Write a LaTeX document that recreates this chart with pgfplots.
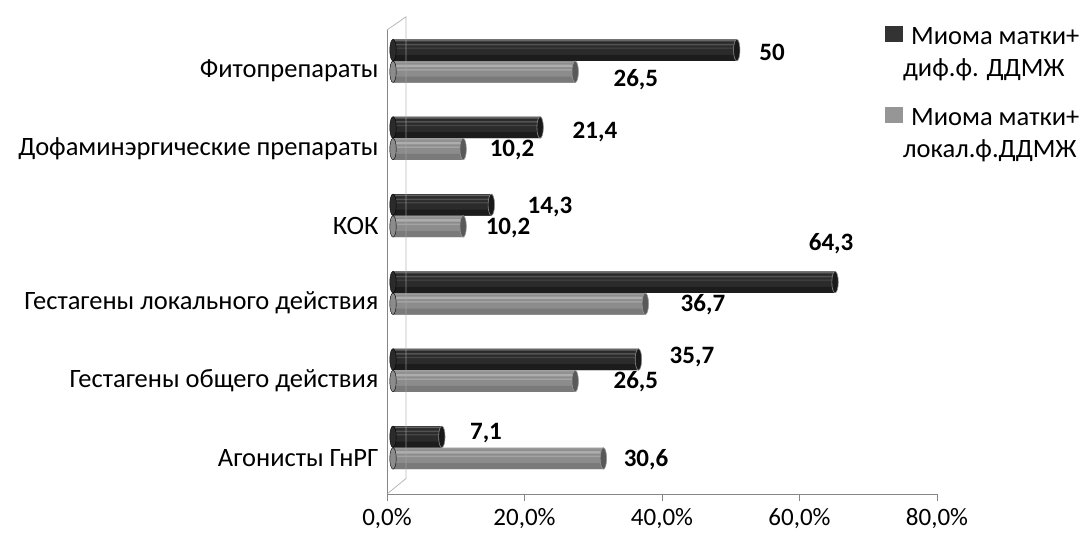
\documentclass[border=0pt]{standalone}
\usepackage{pgfplots}
\usepackage{pgfplotstable}
\pgfplotsset{compat=1.18}
\usepackage{fontspec}
\setmainfont{Carlito}

\definecolor{axisgray}{HTML}{868686}
\definecolor{framegray}{HTML}{A6A6A6}
\definecolor{legdark}{HTML}{333333}
\definecolor{leggray}{HTML}{969696}

% x = value, y = position of the bar (category k at k+0.74 / k+0.46)
% Миома матки + диф.ф. ДДМЖ
\pgfplotstableread{
x    y
7.1  0.74
35.7 1.74
64.3 2.74
14.3 3.74
21.4 4.74
50   5.74
}\diffdata
% Миома матки + локал.ф. ДДМЖ
\pgfplotstableread{
x    y
30.6 0.46
26.5 1.46
36.7 2.46
10.2 3.46
10.2 4.46
26.5 5.46
}\locdata

\pgfplotsset{
  layer/.style n args={3}{xbar, bar shift=#2, bar width=#3, draw=none, fill=#1, forget plot},
  cap/.style={only marks, mark=*, mark size=10.75pt, forget plot},
}

\begin{document}
\begin{tikzpicture}[font=\fontsize{26.5}{32}\selectfont]
% bars, drawn in a hidden axis set 6pt to the right (3-D depth of the cylinders)
\begin{axis}[
  at={(6pt,0)}, anchor=south west,
  scale only axis, width=550pt, height=464pt,
  xmin=0, xmax=80, ymin=0, ymax=6,
  axis lines=none, clip=false,
  legend style={draw=none, fill=none, inner sep=0pt,
    at={(axis description cs:0.8945,1.0086)}, anchor=north west,
    font=\fontsize{26.5}{32}\selectfont, row sep=27pt,
    nodes={inner sep=0pt},
    cells={align=left, anchor=west},
    /tikz/every even column/.style={column sep=4pt}},
]
% left ends
\addplot[cap, mark options={xscale=0.3, fill=black!83, draw=none}]
  table[x expr=0, y=y] {\diffdata};
\addplot[cap, mark options={xscale=0.3, fill=black!45, draw=none}]
  table[x expr=0, y=y] {\locdata};
% dark cylinders
\addplot[layer={black!83}{0pt}{21.5pt}] table[x=x, y=y] {\diffdata};
\addplot[layer={black!89}{-7.75pt}{6pt}] table[x=x, y=y] {\diffdata};
\addplot[layer={black!60}{9.5pt}{1.5pt}] table[x=x, y=y] {\diffdata};
\addplot[layer={black!68}{5.5pt}{1.5pt}] table[x=x, y=y] {\diffdata};
\addplot[layer={black!72}{2pt}{1.2pt}] table[x=x, y=y] {\diffdata};
% gray cylinders
\addplot[layer={black!45}{0pt}{21.5pt}] table[x=x, y=y] {\locdata};
\addplot[layer={black!52}{-7.75pt}{6pt}] table[x=x, y=y] {\locdata};
\addplot[layer={black!32}{6pt}{2.5pt}] table[x=x, y=y] {\locdata};
\addplot[layer={black!36}{2pt}{1.5pt}] table[x=x, y=y] {\locdata};
\addplot[layer={black!40}{9.5pt}{1.5pt}] table[x=x, y=y] {\locdata};
% right end caps
\addplot[cap, mark options={xscale=0.3, fill=black!90, draw=black!45, line width=0.6pt}]
  table[x=x, y=y] {\diffdata};
\addplot[cap, mark options={xscale=0.3, fill=black!65, draw=black!40, line width=0.6pt}]
  table[x=x, y=y] {\locdata};
% legend entries
\addlegendimage{legend image code/.code={\path[draw=none, fill=none] (0pt,-27pt) rectangle (18pt,27pt);
  \fill[legdark, draw=none] (0pt,11pt) rectangle (18pt,27pt);}}
\addlegendentry{\hspace*{8pt}Миома матки+\\диф.ф. ДДМЖ}
\addlegendimage{legend image code/.code={\path[draw=none, fill=none] (0pt,-27pt) rectangle (18pt,27pt);
  \fill[leggray, draw=none] (0pt,11pt) rectangle (18pt,27pt);}}
\addlegendentry{\hspace*{8pt}Миома матки+\\локал.ф.ДДМЖ}
\end{axis}

% frame, ticks, labels
\begin{axis}[
  at={(0,0)}, anchor=south west,
  scale only axis, width=550pt, height=464pt,
  xmin=0, xmax=80, ymin=0, ymax=6,
  axis lines*=left, clip=false,
  axis line style={axisgray, line width=0.8pt},
  tick align=outside, major tick length=7pt, minor tick length=7pt,
  tick style={axisgray, line width=0.8pt},
  xtick={0,20,40,60,80},
  xticklabels={{0,0\%},{20,0\%},{40,0\%},{60,0\%},{80,0\%}},
  xticklabel style={font=\fontsize{25}{30}\selectfont, yshift=-4pt},
  ytick={0.47,1.47,2.47,3.47,4.47,5.47},
  yticklabels={Агонисты ГнРГ, Гестагены общего действия, Гестагены локального действия\ ,
    КОК, Дофаминэргические препараты, Фитопрепараты},
  ytick style={draw=none},
  minor ytick={0,1,2,3,4,5,6},
  yticklabel style={font=\fontsize{26.5}{32}\selectfont, xshift=2pt},
  /pgf/number format/assume math mode=true,
]
\draw[framegray, line width=0.8pt, opacity=0.8] (axis cs:0,6) -- (axis cs:2.76,6.17) -- (axis cs:2.76,0.2) -- (axis cs:0,0);
\begin{scope}[every node/.style={font=\fontsize{25}{30}\selectfont\bfseries, anchor=center}]
\node at (axis cs:56.0,5.716) {50};
\node at (axis cs:36.2,5.354) {26,5};
\node at (axis cs:30.25,4.681) {21,4};
\node at (axis cs:18.18,4.448) {10,2};
\node at (axis cs:23.7,3.711) {14,3};
\node at (axis cs:17.6,3.44) {10,2};
\node at (axis cs:64.6,3.233) {64,3};
\node at (axis cs:45.96,2.444) {36,7};
\node at (axis cs:44.36,1.772) {35,7};
\node at (axis cs:36.2,1.448) {26,5};
\node at (axis cs:14.4,0.789) {7,1};
\node at (axis cs:37.67,0.44) {30,6};
\end{scope}
\end{axis}
\pgfresetboundingbox
\path (-387pt,-42pt) rectangle (697pt,494pt);
\end{tikzpicture}
\end{document}
